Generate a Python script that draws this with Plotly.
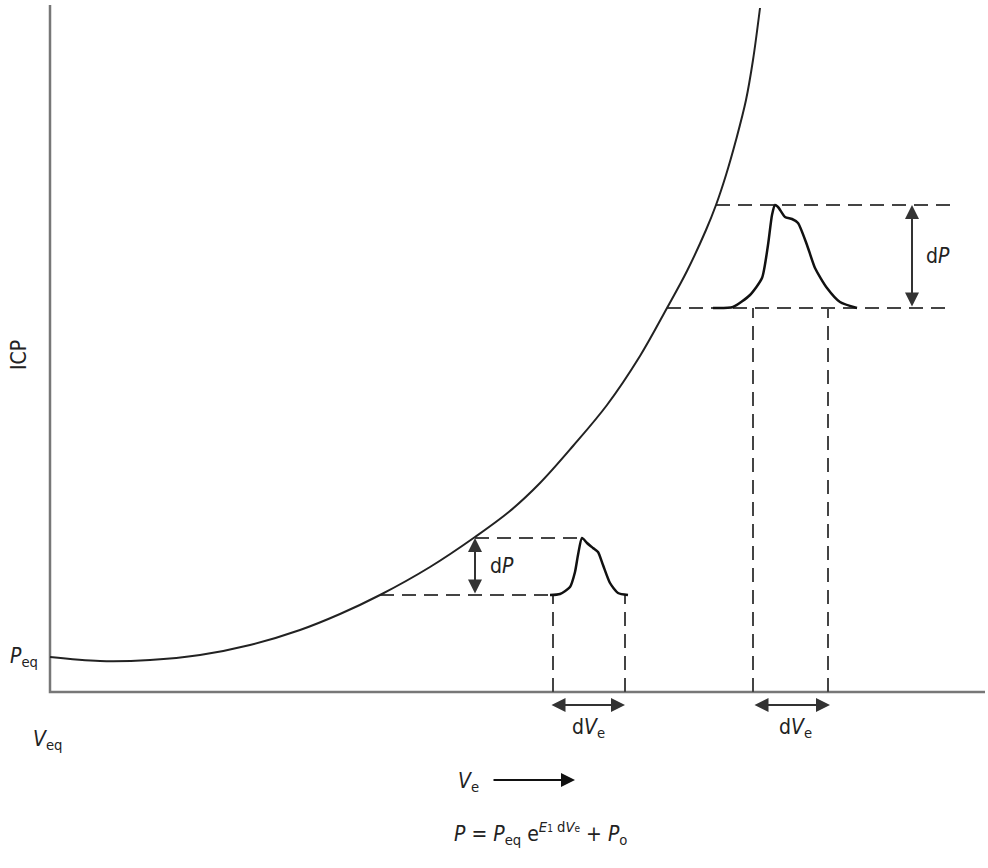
import plotly.graph_objects as go

# diagram units: volume to the right of V_eq, pressure above the volume axis
AXIS_X_END = 935
AXIS_Y_END = 687

# pressure-volume curve
curve_v = [0, 50, 100, 150, 200, 250, 290, 330, 380, 425, 460, 490, 523, 557,
           590, 617, 637, 656, 666, 676, 686, 696, 703, 710]
curve_p = [35, 31, 32, 37, 47, 62, 78, 97, 125, 155, 181, 209, 246, 287,
           336, 384, 421, 462, 487, 517, 552, 592, 632, 684]

# small ICP pulse (low compliance region)
pulse1_v = [500, 510, 520, 525, 528, 532, 537, 543, 548, 553, 560, 568, 578]
pulse1_p = [97, 98, 105, 120, 137, 154, 149, 144, 140, 127, 109, 99, 97]

# large ICP pulse (steep part of the curve)
pulse2_v = [663, 683, 700, 712, 718, 722, 725, 728, 735, 742, 748, 757, 765,
            777, 790, 807]
pulse2_p = [384, 385, 397, 414, 447, 477, 487, 485, 475, 473, 469, 447, 424,
            404, 390, 384]

# pulse levels and widths
low_base, low_top = 97, 154
high_base, high_top = 384, 487
low_dv = [503, 575]
high_dv = [703, 778]

# dashed guide lines: (v0, p0, v1, p1)
guides = [
    (330, low_base, 503, low_base),
    (425, low_top, 532, low_top),
    (617, high_base, 900, high_base),
    (666, high_top, 900, high_top),
    (low_dv[0], 0, low_dv[0], low_base),
    (low_dv[1], 0, low_dv[1], low_base),
    (high_dv[0], 0, high_dv[0], high_base),
    (high_dv[1], 0, high_dv[1], high_base),
]

FONT = "Liberation Sans Narrow, DejaVu Sans Condensed, Arial Narrow, sans-serif"
INK = "#222"

fig = go.Figure()

# axes
fig.add_trace(go.Scatter(x=[0, 0, AXIS_X_END], y=[AXIS_Y_END, 0, 0], mode="lines",
                         line=dict(color="#777", width=2.5), hoverinfo="skip"))

for v0, p0, v1, p1 in guides:
    fig.add_trace(go.Scatter(x=[v0, v1], y=[p0, p1], mode="lines",
                             line=dict(color="#444", width=2, dash="14px,8px"),
                             hoverinfo="skip"))

fig.add_trace(go.Scatter(x=curve_v, y=curve_p, mode="lines",
                         line=dict(color=INK, width=2, shape="spline", smoothing=1)))
fig.add_trace(go.Scatter(x=pulse1_v, y=pulse1_p, mode="lines",
                         line=dict(color="#111", width=2.5, shape="spline", smoothing=0.6)))
fig.add_trace(go.Scatter(x=pulse2_v, y=pulse2_p, mode="lines",
                         line=dict(color="#111", width=2.5, shape="spline", smoothing=0.6)))


def double_arrow(x0, y0, x1, y1):
    fig.add_annotation(x=x1, y=y1, ax=x0, ay=y0, xref="x", yref="y", axref="x", ayref="y",
                       text="", showarrow=True, arrowside="end+start", arrowhead=2,
                       arrowsize=1.4, arrowwidth=2, arrowcolor="#333",
                       standoff=0, startstandoff=0)


double_arrow(425, low_base, 425, low_top)
double_arrow(862, high_base, 862, high_top)
double_arrow(low_dv[0] - 3, -13, low_dv[1], -13)
double_arrow(high_dv[0], -13, high_dv[1] + 2, -13)

# V_e direction arrow
fig.add_annotation(x=525, y=-88, ax=442, ay=-88, xref="x", yref="y", axref="x", ayref="y",
                   text="", showarrow=True, arrowhead=2, arrowsize=1.4, arrowwidth=2,
                   arrowcolor="#111", standoff=0)

labels = [
    (-31, 337, "ICP", -90),
    (-26, 35, "<i>P</i><sub>eq</sub>", 0),
    (-3, -48, "<i>V</i><sub>eq</sub>", 0),
    (452, 126, "d<i>P</i>", 0),
    (888, 436, "d<i>P</i>", 0),
    (538, -36, "d<i>V</i><sub>e</sub>", 0),
    (745, -36, "d<i>V</i><sub>e</sub>", 0),
    (418, -90, "<i>V</i><sub>e</sub>", 0),
    (490, -141, "<i>P</i> = <i>P</i><sub>eq</sub> e<sup><i>E</i>"
                "<span style='font-size:10px'>1</span> d<i>V</i>"
                "<span style='font-size:10px'>e</span></sup> + <i>P</i><sub>o</sub>", 0),
]
for x, y, txt, ang in labels:
    fig.add_annotation(x=x, y=y, xref="x", yref="y", text=txt, showarrow=False,
                       textangle=ang, font=dict(family=FONT, size=21, color=INK))

fig.update_layout(
    width=988,
    height=868,
    margin=dict(l=0, r=0, t=0, b=0),
    paper_bgcolor="white",
    plot_bgcolor="white",
    showlegend=False,
    xaxis=dict(range=[-50, 938], visible=False),
    yaxis=dict(range=[-176, 692], visible=False),
)

fig.write_html("out.html", config={"displayModeBar": False},
               post_script="document.body.style.margin='0px';")
